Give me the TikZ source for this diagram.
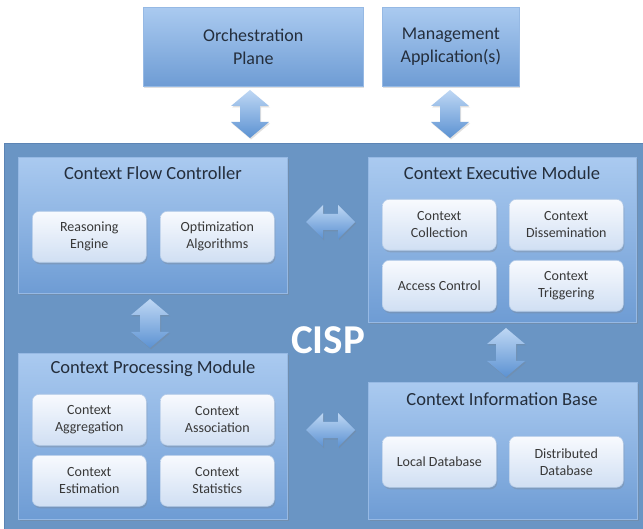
\documentclass[tikz,border=0pt]{standalone}
\usepackage{fontspec}
\setmainfont{Carlito}
\usetikzlibrary{shadows}
\definecolor{cispfill}{RGB}{106,149,196}
\definecolor{cispedge}{RGB}{92,132,180}
\definecolor{modtop}{RGB}{170,202,240}
\definecolor{modbot}{RGB}{110,156,212}
\definecolor{modedge}{RGB}{150,185,228}
\definecolor{subtop}{RGB}{248,250,254}
\definecolor{subbot}{RGB}{208,223,243}
\definecolor{subedge}{RGB}{180,203,232}
\definecolor{arrtop}{RGB}{190,215,244}
\definecolor{arrbot}{RGB}{92,146,210}
\definecolor{txt}{RGB}{36,46,60}
\newcommand\vdarr[3]{%
  \path[arrowsh] (#1,#2) -- (#1+19,#2+16) -- (#1+10,#2+16) -- (#1+10,#3-16) -- (#1+19,#3-16) -- (#1,#3) -- (#1-19,#3-16) -- (#1-10,#3-16) -- (#1-10,#2+16) -- (#1-19,#2+16) -- cycle;}
\newcommand\hdarr[3]{%
  \path[arrowsh] (#1,#3) -- (#1+17,#3-17) -- (#1+17,#3-8) -- (#2-17,#3-8) -- (#2-17,#3-17) -- (#2,#3) -- (#2-17,#3+17) -- (#2-17,#3+8) -- (#1+17,#3+8) -- (#1+17,#3+17) -- cycle;}
\begin{document}
\begin{tikzpicture}[x=1pt,y=-1pt,
  every node/.style={text=txt},
  upbox/.style={draw=modedge, line width=0.6pt, top color=modtop, bottom color=modbot,
    anchor=north west, inner sep=0pt, align=center,
    font=\fontsize{18}{23}\selectfont,
    drop shadow={shadow xshift=1pt, shadow yshift=-2pt, opacity=0.25}},
  modbox/.style={draw=modedge, line width=0.6pt, top color=modtop, bottom color=modbot,
    anchor=north west, inner sep=0pt,
    drop shadow={shadow xshift=1.5pt, shadow yshift=-2pt, opacity=0.3}},
  subbox/.style={draw=subedge, line width=0.6pt, top color=subtop, bottom color=subbot,
    rounded corners=7pt, anchor=north west, inner sep=0pt, align=center,
    minimum width=114pt, minimum height=51pt,
    font=\fontsize{14}{17}\selectfont, text=black!78,
    drop shadow={shadow xshift=1pt, shadow yshift=-2pt, opacity=0.3}},
  title/.style={font=\fontsize{18.5}{22}\selectfont, inner sep=0pt},
  arrowsh/.style={top color=arrtop, bottom color=arrbot,
    drop shadow={shadow xshift=1pt, shadow yshift=-1.5pt, opacity=0.25}}
]
\useasboundingbox (0,0) rectangle (643,529);
\fill[white] (0,0) rectangle (643,529);

% top boxes
\node[upbox, minimum width=220pt, minimum height=79pt] (orch) at (143,7) {Orchestration\\Plane};
\node[upbox, minimum width=137pt, minimum height=79pt] (mgmt) at (382,7) {Management\\Application(s)};

% CISP outer
\node[draw=cispedge, fill=cispfill, line width=1pt, anchor=north west, inner sep=0pt,
  minimum width=640pt, minimum height=386pt] (cisp) at (4,143) {};

% modules
\node[modbox, minimum width=269pt, minimum height=136pt] (cfc) at (18,157) {};
\node[modbox, minimum width=268pt, minimum height=165pt] (cem) at (368,157) {};
\node[modbox, minimum width=269pt, minimum height=166pt] (cpm) at (18,353) {};
\node[modbox, minimum width=269pt, minimum height=137pt] (cib) at (368,382) {};

\node[title] (cfct) at (153,173) {Context Flow Controller};
\node[title] (cemt) at (502,173) {Context Executive Module};
\node[title] (cpmt) at (153,369) {Context Processing Module};
\node[title] (cibt) at (502,399) {Context Information Base};

% sub boxes
\node[subbox] (re) at (32,211) {Reasoning\\Engine};
\node[subbox] (oa) at (160,211) {Optimization\\Algorithms};
\node[subbox] (cc) at (382,199) {Context\\Collection};
\node[subbox] (cd) at (509,199) {Context\\Dissemination};
\node[subbox] (ac) at (382,260) {Access Control};
\node[subbox] (ct) at (509,260) {Context\\Triggering};
\node[subbox] (ca) at (32,394) {Context\\Aggregation};
\node[subbox] (cas) at (160,394) {Context\\Association};
\node[subbox] (ce) at (32,455) {Context\\Estimation};
\node[subbox] (cs) at (160,455) {Context\\Statistics};
\node[subbox] (ld) at (382,436) {Local Database};
\node[subbox] (dd) at (509,436) {Distributed\\Database};

% CISP label
\node[text=white, font=\fontsize{41}{44}\selectfont\bfseries, inner sep=0pt] (cispl) at (328,340) {CISP};

% block arrows
\vdarr{250}{90}{138}
\vdarr{450}{90}{138}
\vdarr{150}{299}{348}
\vdarr{506}{328}{377}
\hdarr{306}{355}{222}
\hdarr{306}{355}{430}
\end{tikzpicture}
\end{document}
